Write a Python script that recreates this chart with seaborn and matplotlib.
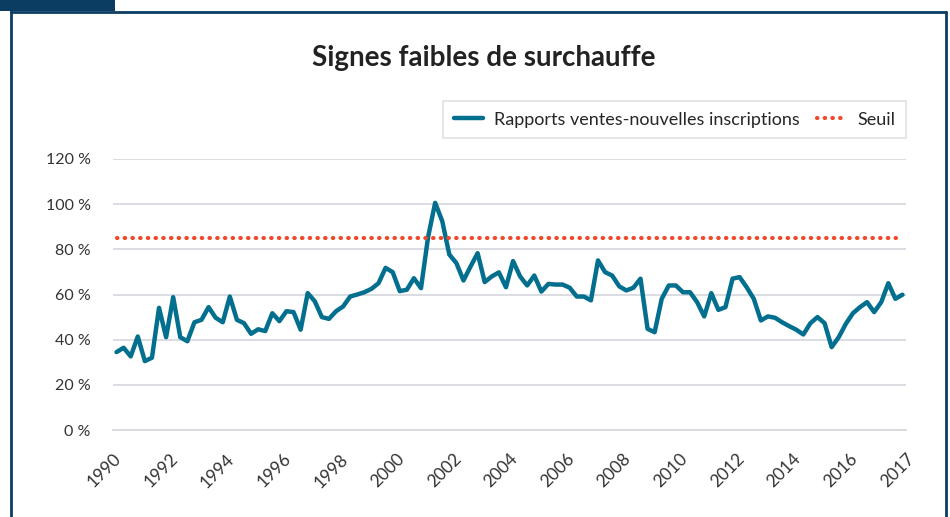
import matplotlib
matplotlib.use("Agg")
import matplotlib.pyplot as plt
import matplotlib.patches as patches
import numpy as np
import pandas as pd
import seaborn as sns

# Données trimestrielles (1990 T1 -> 2017 T4)
ratio = [34.5, 36.4, 32.6, 41.4,
         30.5, 32.0, 54.1, 41.1,
         58.8, 41.1, 39.3, 47.7,
         48.8, 54.4, 49.7, 47.7,
         59.1, 48.8, 47.3, 42.6,
         44.6, 43.8, 51.7, 48.2,
         52.6, 52.2, 44.4, 60.6,
         57.0, 50.0, 49.2, 52.6,
         54.7, 59.1, 60.0, 61.0,
         62.5, 65.0, 71.8, 69.9,
         61.5, 62.1, 67.2, 62.8,
         85.4, 100.6, 92.5, 77.7,
         73.9, 66.2, 72.4, 78.3,
         65.5, 68.0, 69.8, 63.2,
         74.8, 68.0, 64.0, 68.4,
         61.3, 64.7, 64.4, 64.4,
         63.0, 59.1, 59.1, 57.4,
         75.1, 69.9, 68.4, 63.6,
         61.8, 63.0, 67.0, 44.8,
         43.3, 58.1, 64.0, 64.0,
         61.0, 61.0, 56.6, 50.3,
         60.6, 53.2, 54.4, 67.0,
         67.7, 63.2, 58.1, 48.5,
         50.3, 49.7, 47.7, 46.0,
         44.4, 42.3, 47.3, 50.0,
         47.3, 36.7, 41.1, 47.0,
         51.7, 54.4, 56.6, 52.2,
         56.6, 65.0, 58.1, 59.9]
seuil = 85
x_labels = ['1990', '1992', '1994', '1996', '1998', '2000', '2002', '2004',
            '2006', '2008', '2010', '2012', '2014', '2016', '2017']
y_ticks = [0, 20, 40, 60, 80, 100, 120]

n = len(ratio)
df = pd.DataFrame({'trimestre': np.arange(n) + 0.5,
                   'Rapports ventes-nouvelles inscriptions': ratio,
                   'Seuil': [seuil] * n})

sns.set_theme(style='white')
plt.rcParams['font.family'] = ['Lato', 'DejaVu Sans']

bleu = '#036f8f'
rouge = '#f0482a'
gris = '#d9dae0'
marine = '#0b3d63'

fig = plt.figure(figsize=(9.5, 5.17), dpi=100)
ax = fig.add_axes([113 / 950, 1 - 430 / 517, 793 / 950, 271 / 517])

sns.lineplot(data=df, x='trimestre', y='Rapports ventes-nouvelles inscriptions',
             ax=ax, color=bleu, linewidth=3.2,
             label='Rapports ventes-nouvelles inscriptions')
sns.lineplot(data=df, x='trimestre', y='Seuil', ax=ax, color=rouge,
             linewidth=3.0, linestyle=(0, (0.1, 1.75)), label='Seuil')
ax.lines[1].set_dash_capstyle('round')

ax.set_xlim(0, n)
ax.set_ylim(0, 120)
ax.set_yticks(y_ticks)
ax.set_yticklabels([f'{v} %' for v in y_ticks], fontsize=11.5, color='#333333')
ax.set_xticks(np.arange(0, n + 1, 8))
ax.set_xticklabels(x_labels, rotation=45, ha='right', va='top',
                   rotation_mode='anchor', fontsize=12.5, color='#333333')
ax.set_xticks(np.arange(0, n + 1, 2), minor=True)
ax.tick_params(axis='y', length=0, pad=16)
ax.tick_params(axis='x', which='both', direction='in', length=4,
               color=gris, width=1, pad=15)
ax.set_xlabel('')
ax.set_ylabel('')
ax.grid(axis='y', color=gris, linewidth=1.3)
ax.set_axisbelow(True)
for s in ['top', 'right', 'left']:
    ax.spines[s].set_visible(False)
ax.spines['bottom'].set_color(gris)
ax.spines['bottom'].set_linewidth(1.3)

leg = ax.legend(loc='upper right', bbox_to_anchor=(1.0, 1.215), borderaxespad=0,
                ncol=2, frameon=True, fancybox=False, edgecolor=gris,
                fontsize=13, handlelength=1.6, handletextpad=0.6,
                columnspacing=1.0, borderpad=0.6)
leg.get_frame().set_linewidth(1.2)

fig.text(484 / 950, 1 - 58 / 517, 'Signes faibles de surchauffe',
         ha='center', va='center', fontsize=20, fontweight='bold',
         color='#222222')

# cadre et onglet
fig.patches.append(patches.Rectangle((0, 1 - 11 / 517), 115 / 950, 11 / 517,
                                     transform=fig.transFigure,
                                     facecolor=marine, edgecolor='none'))
fig.lines.append(plt.Line2D([11 / 950, 11 / 950], [0, 1 - 11 / 517],
                            transform=fig.transFigure, color=marine, lw=2))
fig.lines.append(plt.Line2D([11 / 950, 946 / 950], [1 - 12 / 517, 1 - 12 / 517],
                            transform=fig.transFigure, color=marine, lw=2))
fig.lines.append(plt.Line2D([946 / 950, 946 / 950], [0, 1 - 12 / 517],
                            transform=fig.transFigure, color=marine, lw=2))

fig.savefig('out.png', dpi=100)
